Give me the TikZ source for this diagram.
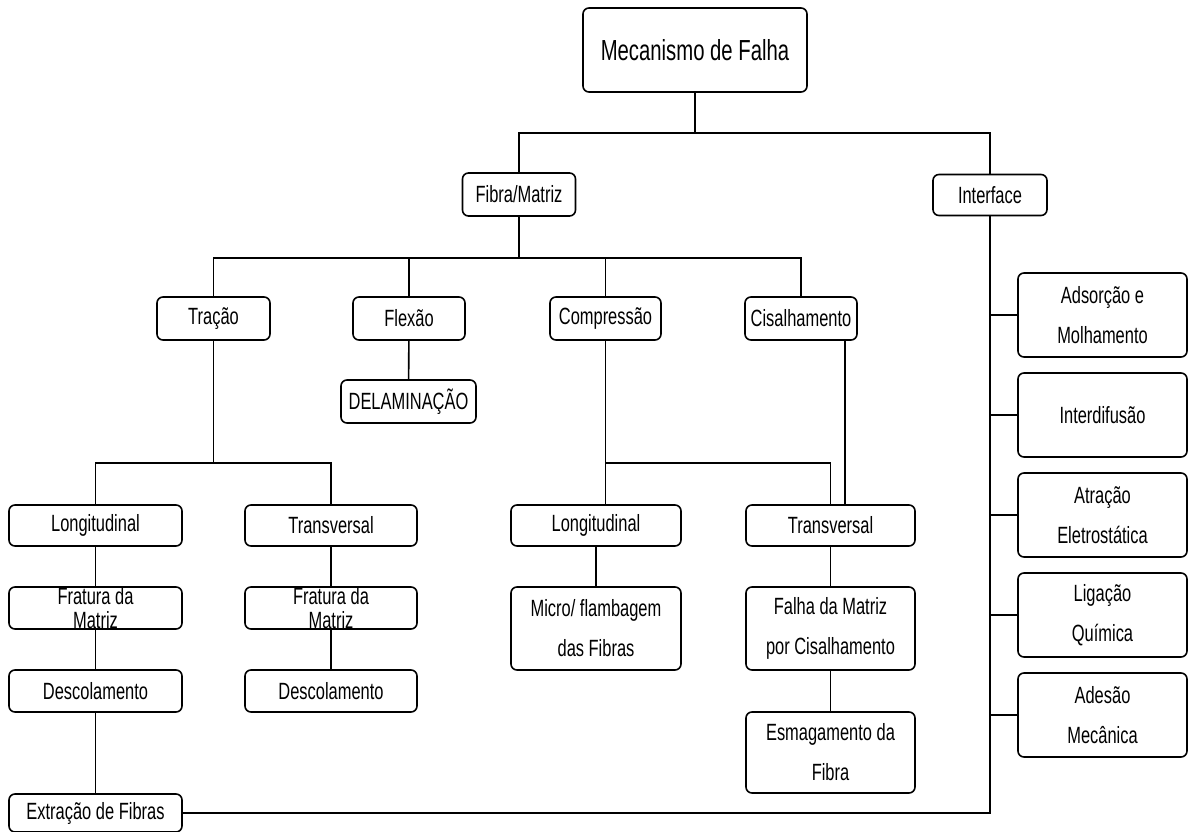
\documentclass[tikz,border=0pt]{standalone}
\usepackage{fontspec}
\setmainfont{Liberation Sans}[FakeStretch=0.7]
\begin{document}
\begin{tikzpicture}[
  x=1pt, y=-1pt,
  box/.style={draw, rounded corners=6pt, line width=1.6pt, align=center,
    inner sep=0pt, font=\fontsize{23.5}{40}\selectfont},
  wh/.style 2 args={minimum width=#1pt, minimum height=#2pt},
  link/.style={line width=1.6pt}
]
\useasboundingbox (0,0) rectangle (1189,832);

% Top levels
\node[box, wh={224}{84}, font=\fontsize{29}{34}\selectfont] (root) at (695,50) {Mecanismo de Falha};
\node[box, wh={113}{43}] (fibra) at (519,194.5) {Fibra/Matriz};
\node[box, wh={114}{41}] (interf) at (990,195) {Interface};

\node[box, wh={113}{43}] (tracao) at (213.5,318.5) {Tração};
\node[box, wh={112}{43}] (flexao) at (409,318.5) {Flexão};
\node[box, wh={111}{43}] (compr) at (605.5,318.5) {Compressão};
\node[box, wh={112}{43}] (cisal) at (801,318.5) {Cisalhamento};
\node[box, wh={135}{43}] (delam) at (408.5,401.5) {DELAMINAÇÃO};

% Tracao branch
\node[box, wh={173}{41}] (longA) at (95.5,525.5) {Longitudinal};
\node[box, wh={173}{42}, font=\fontsize{23.5}{24}\selectfont] (fratA) at (95.5,608) {Fratura da\\Matriz};
\node[box, wh={173}{42}] (descA) at (95.5,691) {Descolamento};
\node[box, wh={173}{38}] (extr) at (95.5,813) {Extração de Fibras};

\node[box, wh={172}{41}] (traA) at (331,525.5) {Transversal};
\node[box, wh={172}{42}, font=\fontsize{23.5}{24}\selectfont] (fratB) at (331,608) {Fratura da\\Matriz};
\node[box, wh={172}{42}] (descB) at (331,691) {Descolamento};

% Compressao / cisalhamento branch
\node[box, wh={170}{41}] (longB) at (596,525.5) {Longitudinal};
\node[box, wh={170}{83}] (micro) at (596,628.5) {Micro/ flambagem\\das Fibras};
\node[box, wh={169}{41}] (traB) at (830.5,525.5) {Transversal};
\node[box, wh={169}{83}] (falha) at (830.5,628.5) {Falha da Matriz\\por Cisalhamento};
\node[box, wh={169}{81}] (esmag) at (830.5,752.5) {Esmagamento da\\Fibra};

% Interface boxes
\foreach \t [count=\i] in {{Adsorção e\\Molhamento}, {Interdifusão},
    {Atração\\Eletrostática}, {Ligação\\Química}, {Adesão\\Mecânica}}
  \node[box, wh={169}{84}] (R\i) at (1102.5, 215+100*\i) {\t};

% Connectors
\coordinate (b1) at (695,133);
\draw[link] (root.south) -- (b1);
\draw[link] (fibra.north) |- (b1) -| (interf.north);

\coordinate (b2) at (519,258);
\draw[link] (fibra.south) -- (b2);
\draw[link] (tracao.north) |- (b2) -| (cisal.north);
\foreach \n in {flexao, compr}
  \draw[link] (\n.north) -- (\n.north |- b2);
\draw[link] (flexao) -- (delam);

\coordinate (b3) at (213.5,463);
\draw[link] (tracao.south) -- (b3);
\draw[link] (longA.north) |- (b3) -| (traA.north);
\draw[link] (longA) -- (fratA) -- (descA) -- (extr);
\draw[link] (traA) -- (fratB) -- (descB);

\coordinate (b4) at (605.5,463);
\draw[link] (compr.south) -- (b4) -- (b4 |- longB.north);
\draw[link] (b4) -| (traB.north);
\draw[link] ([xshift=44pt]cisal.south) -- ([xshift=44pt]cisal.south |- traB.north);
\draw[link] (longB) -- (micro);
\draw[link] (traB) -- (falha) -- (esmag);

\draw[link] (interf.south) |- (extr.east);
\foreach \i in {1,...,5}
  \draw[link] (R\i.west) -- (R\i.west -| interf.south);

\end{tikzpicture}
\end{document}
